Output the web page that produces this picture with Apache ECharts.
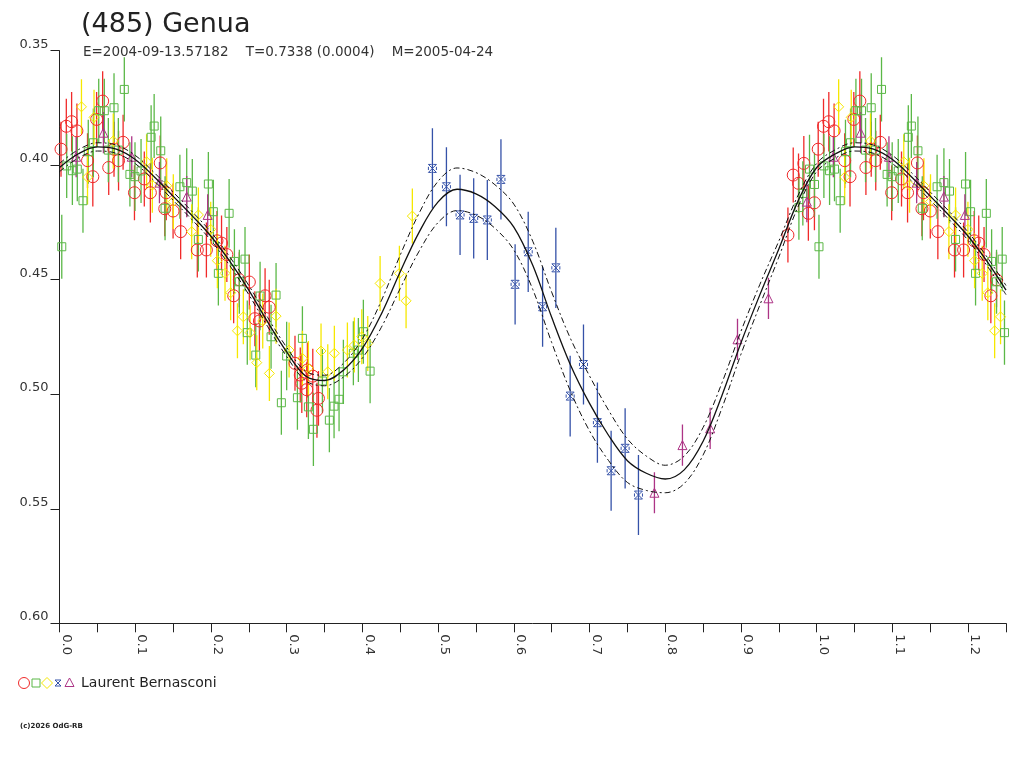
<!DOCTYPE html>
<html><head><meta charset="utf-8">
<script src="https://cdn.jsdelivr.net/npm/echarts@6/dist/echarts.min.js"></script>
<style>html,body{margin:0;padding:0;background:#fff}#c{width:1024px;height:768px}</style>
</head><body><div id="c"></div>
<script>
// ---- tick labels ----
const xTickLabels = ['0.0','0.1','0.2','0.3','0.4','0.5','0.6','0.7','0.8','0.9','1.0','1.1','1.2'];
const yTickLabels = ['0.35','0.40','0.45','0.50','0.55','0.60'];

// ---- observations [phase, value, error] ----
const red = [
 [0.002,0.393,0.012],[0.009,0.383,0.012],[0.016,0.381,0.013],[0.023,0.385,0.012],[0.037,0.398,0.012],
 [0.044,0.405,0.013],[0.049,0.380,0.012],[0.057,0.372,0.013],[0.065,0.401,0.012],[0.072,0.393,0.012],
 [0.078,0.398,0.013],[0.084,0.390,0.012],[0.099,0.412,0.012],[0.112,0.406,0.012],[0.120,0.412,0.013],
 [0.133,0.399,0.012],[0.139,0.419,0.012],[0.141,0.412,0.012],[0.150,0.420,0.012],[0.160,0.429,0.012],
 [0.182,0.437,0.012],[0.194,0.437,0.012],[0.208,0.433,0.013],[0.214,0.434,0.012],[0.221,0.439,0.012],
 [0.230,0.457,0.012],[0.2375,0.450,0.012],[0.2507,0.451,0.012],[0.258,0.467,0.012],[0.264,0.468,0.013],
 [0.2715,0.457,0.012],[0.277,0.462,0.012],[0.311,0.4865,0.012],[0.318,0.4916,0.012],[0.320,0.4952,0.013],
 [0.3265,0.498,0.012],[0.3274,0.4894,0.012],[0.3345,0.4921,0.012],[0.340,0.507,0.012],[0.342,0.5018,0.012],
 [0.962,0.4305,0.012],[0.969,0.4043,0.012],[0.976,0.4079,0.013],[0.983,0.3992,0.012],[0.989,0.421,0.012],
 [0.997,0.4164,0.012]
];
const green = [
 [0.003,0.4356,0.014],[0.0095,0.4003,0.014],[0.017,0.4024,0.015],[0.0235,0.4017,0.014],[0.031,0.4155,0.014],
 [0.038,0.3941,0.014],[0.0447,0.3902,0.015],[0.0518,0.3762,0.014],[0.0592,0.3762,0.014],[0.0645,0.3934,0.014],
 [0.072,0.3749,0.015],[0.0777,0.3934,0.014],[0.0856,0.3669,0.014],[0.093,0.404,0.014],[0.0997,0.405,0.015],
 [0.1077,0.4025,0.014],[0.121,0.3878,0.014],[0.125,0.3829,0.014],[0.1337,0.3937,0.015],[0.1394,0.4188,0.014],
 [0.159,0.4094,0.014],[0.168,0.4076,0.015],[0.1754,0.4113,0.014],[0.1834,0.4324,0.014],[0.1966,0.4082,0.014],
 [0.2032,0.4203,0.014],[0.2098,0.4472,0.014],[0.224,0.421,0.015],[0.231,0.442,0.014],[0.2375,0.4509,0.014],
 [0.245,0.441,0.014],[0.248,0.4731,0.014],[0.2592,0.4829,0.014],[0.2649,0.4571,0.015],[0.2794,0.4749,0.014],
 [0.286,0.4567,0.014],[0.293,0.5037,0.014],[0.300,0.4833,0.015],[0.3142,0.5015,0.014],[0.3208,0.4756,0.014],
 [0.3287,0.5055,0.014],[0.3353,0.5153,0.016],[0.3472,0.4942,0.014],[0.3564,0.5113,0.014],[0.3626,0.5052,0.014],
 [0.3692,0.5022,0.014],[0.3749,0.4902,0.014],[0.3881,0.4821,0.014],[0.3947,0.4807,0.014],[0.4013,0.4727,0.014],
 [0.4102,0.4899,0.014],[0.9765,0.4185,0.014],[0.9817,0.4123,0.014],[0.9905,0.4017,0.015],[0.9971,0.4084,0.014]
];
const yellow = [
 [0.029,0.3745,0.012],[0.037,0.4052,0.012],[0.0456,0.3791,0.012],[0.071,0.3894,0.012],[0.115,0.3985,0.012],
 [0.1226,0.4087,0.012],[0.1416,0.409,0.012],[0.1503,0.4159,0.012],[0.1746,0.429,0.012],[0.1834,0.4217,0.012],
 [0.1997,0.428,0.012],[0.2085,0.4417,0.012],[0.2186,0.4472,0.012],[0.226,0.4557,0.012],[0.2428,0.4662,0.012],
 [0.235,0.4723,0.012],[0.2517,0.4731,0.012],[0.2605,0.4862,0.012],[0.2684,0.468,0.012],[0.2772,0.4909,0.012],
 [0.286,0.4659,0.012],[0.3032,0.4807,0.012],[0.3208,0.4843,0.012],[0.3287,0.4887,0.012],[0.3454,0.4811,0.012],
 [0.3543,0.4902,0.012],[0.363,0.4821,0.012],[0.3802,0.4807,0.012],[0.3894,0.4785,0.012],[0.3992,0.4749,0.012],
 [0.4071,0.4778,0.012],[0.4234,0.4516,0.012],[0.4489,0.4472,0.012],[0.4577,0.4592,0.012],[0.466,0.4222,0.012]
];
const blue = [
 [0.4925,0.4014,0.0175],[0.511,0.4094,0.0173],[0.529,0.4217,0.0175],[0.547,0.4232,0.0175],[0.565,0.4239,0.0175],
 [0.583,0.4062,0.0175],[0.6017,0.452,0.0175],[0.619,0.4378,0.0175],[0.638,0.4618,0.0175],[0.6555,0.4448,0.0175],
 [0.6744,0.5008,0.0176],[0.692,0.487,0.0175],[0.7104,0.5124,0.0175],[0.7285,0.5334,0.0175],[0.747,0.5236,0.0175],
 [0.7646,0.544,0.0175]
];
const purple = [
 [0.022,0.3963,0.009],[0.058,0.3858,0.009],[0.0954,0.3963,0.009],[0.132,0.4076,0.009],[0.168,0.4137,0.009],
 [0.1957,0.4217,0.009],[0.7857,0.543,0.009],[0.8227,0.5222,0.009],[0.8593,0.5149,0.009],[0.8954,0.476,0.009],
 [0.9363,0.4581,0.009],[0.987,0.4159,0.009]
];

// ---- fitted curve and its uncertainty band ----
const fitPhase = [0.000,0.025,0.050,0.075,0.100,0.125,0.150,0.175,0.200,0.225,0.250,0.275,0.300,0.325,0.350,0.375,
 0.400,0.425,0.450,0.475,0.500,0.525,0.550,0.575,0.600,0.625,0.650,0.675,0.700,0.725,0.750,0.775,0.800,0.825,
 0.850,0.875,0.900,0.925,0.950,0.975,1.000,1.025,1.050,1.075,1.100,1.125,1.150,1.175,1.200,1.225,1.250];
const fitMag = [0.4010,0.3950,0.3920,0.3930,0.3975,0.4050,0.4135,0.4220,0.4310,0.4420,0.4545,0.4685,0.4815,0.4920,
 0.4940,0.4895,0.4800,0.4650,0.4465,0.4292,0.4160,0.4105,0.4125,0.4180,0.4270,0.4437,0.4664,0.4873,0.5040,0.5179,
 0.5290,0.5345,0.5370,0.5330,0.5205,0.5004,0.4775,0.4565,0.4366,0.4159,0.4010,0.3950,0.3920,0.3930,0.3975,0.4050,
 0.4135,0.4220,0.4310,0.4420,0.4545];
const fitUpper = [0.3992,0.3932,0.3902,0.3912,0.3957,0.4032,0.4117,0.4202,0.4292,0.4401,0.4525,0.4665,0.4795,0.4899,
 0.4917,0.4865,0.4758,0.4592,0.4392,0.4209,0.4070,0.4012,0.4032,0.4085,0.4170,0.4332,0.4554,0.4758,0.4920,0.5069,
 0.5195,0.5270,0.5310,0.5270,0.5145,0.4949,0.4725,0.4520,0.4331,0.4134,0.3992,0.3932,0.3902,0.3912,0.3957,0.4032,
 0.4117,0.4202,0.4292,0.4401,0.4525];
const fitLower = [0.4028,0.3968,0.3938,0.3948,0.3993,0.4068,0.4153,0.4238,0.4328,0.4439,0.4565,0.4705,0.4835,0.4941,
 0.4963,0.4925,0.4842,0.4708,0.4538,0.4375,0.4250,0.4198,0.4218,0.4275,0.4370,0.4542,0.4774,0.4988,0.5160,0.5289,
 0.5385,0.5420,0.5430,0.5390,0.5265,0.5059,0.4825,0.4610,0.4401,0.4184,0.4028,0.3968,0.3938,0.3948,0.3993,0.4068,
 0.4153,0.4238,0.4328,0.4439,0.4565];

const COLORS = {red:'#f02a2a', green:'#5bb847', yellow:'#f6e800', blue:'#3552a8', purple:'#ad3486'};
const SYMBOLS = {red:'circle', green:'rect', yellow:'diamond',
  blue:'path://M0,0L10,10M10,0L0,10M0,0L4,0M6,0L10,0M0,10L4,10M6,10L10,10M0,3L0,7M10,3L10,7', purple:'triangle'};
const SIZES = {red:12, green:8, yellow:10, blue:8, purple:9};

// phase-folded display: points with phase < 0.25 are shown again one cycle later
function fold(pts){
  return pts.concat(pts.filter(p => p[0] + 1 <= 1.25).map(p => [p[0] + 1, p[1], p[2]]));
}

const series = [];
const groups = {red, green, yellow, blue, purple};
Object.keys(groups).forEach(k => {
  const d = fold(groups[k]);
  series.push({
    type:'custom', name:k+'err', data:d, encode:{x:0,y:1}, clip:true, silent:true, z:2,
    renderItem:(params, api) => {
      const x = api.value(0), y = api.value(1), e = api.value(2);
      const p1 = api.coord([x, y - e]), p2 = api.coord([x, y + e]);
      return {type:'line', shape:{x1:p1[0], y1:p1[1], x2:p2[0], y2:p2[1]},
        style:{stroke:COLORS[k], lineWidth:1.3}};
    }
  });
  series.push({
    type:'scatter', name:k, data:d.map(p => [p[0], p[1]]), symbol:SYMBOLS[k], symbolSize:SIZES[k],
    z:3, silent:true,
    itemStyle:{color:'rgba(0,0,0,0)', borderColor:COLORS[k], borderWidth:1, opacity:1}
  });
});
const fitLine = (arr, dashed) => ({
  type:'line', data:fitPhase.map((p,i) => [p, arr[i]]), showSymbol:false, smooth:0.35, z:5, silent:true,
  lineStyle:{color:'#111', width: dashed ? 1 : 1.3, type: dashed ? [6,3,2,3] : 'solid'}
});
series.push(fitLine(fitUpper, true), fitLine(fitLower, true), fitLine(fitMag, false));

const FONT = 'DejaVu Sans';
const chart = echarts.init(document.getElementById('c'), null, {renderer:'canvas'});
chart.setOption({
  animation:false,
  backgroundColor:'#fff',
  title:[
    {text:'(485) Genua', left:76, top:6, textStyle:{fontFamily:FONT, fontSize:27, fontWeight:'normal', color:'#222'}},
    {text:'E=2004-09-13.57182    T=0.7338 (0.0004)    M=2005-04-24', left:78, top:40,
     textStyle:{fontFamily:FONT, fontSize:13.5, fontWeight:'normal', color:'#333'}}
  ],
  grid:{left:59.5, right:18, top:50.7, bottom:144.7, containLabel:false},
  xAxis:{
    type:'value', min:0, max:1.25, interval:0.05,
    axisLine:{show:true, lineStyle:{color:'#222', width:1}},
    axisTick:{show:true, length:9, lineStyle:{color:'#222'}},
    splitLine:{show:false},
    axisLabel:{
      rotate:-90, margin:11, verticalAlign:'bottom', color:'#333', fontFamily:FONT, fontSize:13,
      showMinLabel:true, showMaxLabel:true,
      formatter:v => { const s = v.toFixed(1); return (Math.round(v*100) % 10 === 0 && xTickLabels.includes(s)) ? s : ''; }
    }
  },
  yAxis:{
    type:'value', inverse:true, min:0.35, max:0.60, interval:0.05,
    axisLine:{show:true, lineStyle:{color:'#222', width:1}},
    axisTick:{show:true, length:9, lineStyle:{color:'#222'}},
    splitLine:{show:false},
    axisLabel:{
      margin:11, verticalAlign:'bottom', color:'#333', fontFamily:FONT, fontSize:13,
      formatter:v => { const s = v.toFixed(2); return yTickLabels.includes(s) ? s : ''; }
    }
  },
  graphic:[
    {type:'circle', shape:{cx:24, cy:683, r:5.5}, style:{fill:'none', stroke:COLORS.red, lineWidth:1}},
    {type:'rect', shape:{x:32, y:679, width:8, height:8}, style:{fill:'none', stroke:COLORS.green, lineWidth:1}},
    {type:'polygon', shape:{points:[[47,677.5],[52.5,683],[47,688.5],[41.5,683]]}, style:{fill:'none', stroke:COLORS.yellow, lineWidth:1}},
    {type:'line', shape:{x1:55, y1:680, x2:61, y2:686}, style:{stroke:COLORS.blue, lineWidth:1}},
    {type:'line', shape:{x1:61, y1:680, x2:55, y2:686}, style:{stroke:COLORS.blue, lineWidth:1}},
    {type:'line', shape:{x1:55, y1:680, x2:61, y2:680}, style:{stroke:COLORS.blue, lineWidth:1}},
    {type:'line', shape:{x1:55, y1:686, x2:61, y2:686}, style:{stroke:COLORS.blue, lineWidth:1}},
    {type:'polygon', shape:{points:[[69.5,678],[74,686.5],[65,686.5]]}, style:{fill:'none', stroke:COLORS.purple, lineWidth:1}},
    {type:'text', x:81, y:683, style:{text:'Laurent Bernasconi', fontFamily:FONT, fontSize:14, fill:'#222', verticalAlign:'middle', align:'left'}},
    {type:'text', x:20, y:726, style:{text:'(c)2026 OdG-RB', fontFamily:FONT, fontSize:7, fontWeight:'bold', fill:'#222', verticalAlign:'middle', align:'left'}}
  ],
  series
});
</script>
</body></html>
